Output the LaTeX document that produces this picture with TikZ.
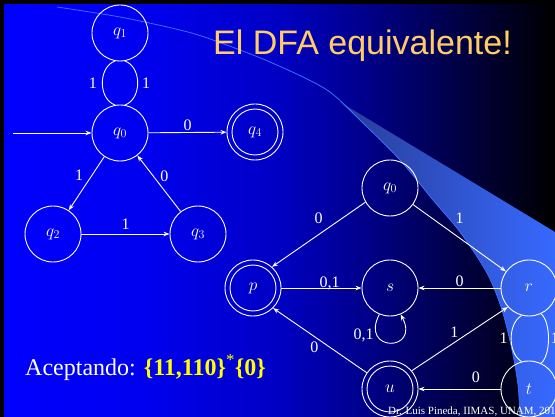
\documentclass[tikz,border=0pt]{standalone}
\usepackage[no-math]{fontspec}
\setmainfont{Liberation Serif}
\newfontfamily\titlefont{Liberation Sans}
\usetikzlibrary{arrows.meta}
\definecolor{bgA}{RGB}{0,0,255}
\definecolor{bgB}{RGB}{0,0,238}
\definecolor{bgC}{RGB}{0,0,195}
\definecolor{bgD}{RGB}{0,0,135}
\definecolor{bgE}{RGB}{0,0,75}
\definecolor{bgF}{RGB}{0,0,25}
\definecolor{titlecol}{RGB}{255,204,102}
\definecolor{swooshlight}{RGB}{55,105,255}
\definecolor{swooshdark}{RGB}{40,60,150}
\definecolor{swooshline}{RGB}{60,110,255}
\definecolor{acepyellow}{RGB}{255,255,0}
\pgfdeclarehorizontalshading{slidebg}{100bp}{color(0bp)=(bgA); color(25bp)=(bgA); color(38.5bp)=(bgB); color(50.2bp)=(bgC); color(58.3bp)=(bgD); color(65.5bp)=(bgE); color(71.8bp)=(bgF); color(75bp)=(black); color(100bp)=(black)}
\tikzset{
  state/.style={circle, draw=white, line width=0.9pt, minimum size=56pt, inner sep=0pt,
    text=white, font=\fontsize{18}{18}\selectfont},
  accepting/.style={state, path picture={\draw[white, line width=0.9pt]
    (path picture bounding box.center) circle (23pt);}},
  edge/.style={draw=white, line width=0.9pt, -{Stealth[length=6pt,width=4.5pt]}},
  plain/.style={draw=white, line width=0.9pt},
  lbl/.style={text=white, font=\fontsize{16}{16}\selectfont, inner sep=1pt},
}
\begin{document}
\begin{tikzpicture}[x=1pt,y=1pt]
\useasboundingbox (0,0) rectangle (555,-417);
% background
\shade[shading=slidebg] (0,0) rectangle (555,-417);
\shade[left color=swooshdark, middle color=swooshlight, right color=swooshlight]
  plot[smooth] coordinates {(340,-102) (365,-125) (400,-160) (433,-200) (460,-232) (487,-273) (502,-310) (512,-350) (518,-385) (520,-417)}
  -- (555,-417) -- (555,-232) -- cycle;
\draw[swooshline, line width=0.8pt] plot[smooth] coordinates {(57,-7) (120,-17) (180,-30) (213,-40) (270,-62) (327,-90) (365,-125) (400,-160) (433,-200) (460,-232) (487,-273) (502,-310) (512,-350) (518,-385) (520,-417)};
\fill[black] (0,0) rectangle (555,-4);
\fill[black] (0,0) rectangle (4,-417);
% title
\node[anchor=base west, text=titlecol, font=\titlefont\fontsize{34}{34}\selectfont, inner sep=0pt] (title) at (213,-55) {El DFA equivalente!};
% NFA
\node[state] (q1) at (120,-33) {$q_1$};
\node[state] (q0) at (120,-133) {$q_0$};
\node[accepting] (q4) at (255,-132) {$q_4$};
\node[state] (q2) at (53,-234) {$q_2$};
\node[state] (q3) at (198,-234) {$q_3$};
\coordinate (start) at (13,-133);
\draw[edge] (start) -- (q0);
\draw[edge] (q0) -- node[lbl, above] {0} (q4);
\draw[plain] (q1.-100) .. controls +(-17,-6) and +(-17,6) .. node[lbl, left=4pt] {1} (q0.100);
\draw[plain] (q0.80) .. controls +(17,6) and +(17,-6) .. node[lbl, right=3pt] {1} (q1.-80);
\draw[edge] (q0) -- node[lbl, above left=2pt] {1} (q2);
\draw[edge] (q3) -- node[lbl, above right] {0} (q0);
\draw[edge] (q2) -- node[lbl, above=3pt] {1} (q3);
% DFA
\node[state] (dq0) at (390,-188) {$q_0$};
\node[accepting] (p) at (253,-288) {$p$};
\node[state] (s) at (390,-288) {$s$};
\node[state] (r) at (529,-288) {$r$};
\node[accepting] (u) at (390,-389) {$u$};
\node[state] (t) at (529,-389) {$t$};
\draw[edge] (dq0.-150) -- node[lbl, above=9pt] {0} (p.48);
\draw[edge] (dq0) -- node[lbl, above=13pt] {1} (r);
\draw[edge] (p) -- node[lbl, above=-3pt, pos=0.6] {0,1} (s);
\draw[edge] (r) -- node[lbl, above] {0} (s);
\draw[edge] (s.-112) .. controls +(-20,-38) and +(20,-38) .. node[lbl, pos=0.25, left=2pt] {0,1} (s.-68);
\draw[edge] (u.145) -- node[lbl, below left] {0} (p.-45);
\draw[edge] (u.40) -- node[lbl, above left] {1} (r.-138);
\draw[edge] (t) -- node[lbl, above=5pt, pos=0.3] {0} (u);
\draw[plain] (r.-105) .. controls +(-14,-8) and +(-14,8) .. node[lbl, left=2pt] {1} (t.105);
\draw[plain] (r.-65) .. controls +(10,-8) and +(10,8) .. node[lbl, right=1pt] {1} (t.65);
% texts
\node[anchor=base west, text=white, font=\fontsize{24}{24}\selectfont, inner sep=0pt] (acep) at (25,-375)
  {Aceptando: \textcolor{acepyellow}{\textbf{\{11,110\}}\textsuperscript{*}\textbf{\{0\}}}};
\node[anchor=base west, text=white, font=\fontsize{11}{11}\selectfont, inner sep=0pt] (footer) at (388,-414) {Dr. Luis Pineda, IIMAS, UNAM, 2010};
\end{tikzpicture}
\end{document}
